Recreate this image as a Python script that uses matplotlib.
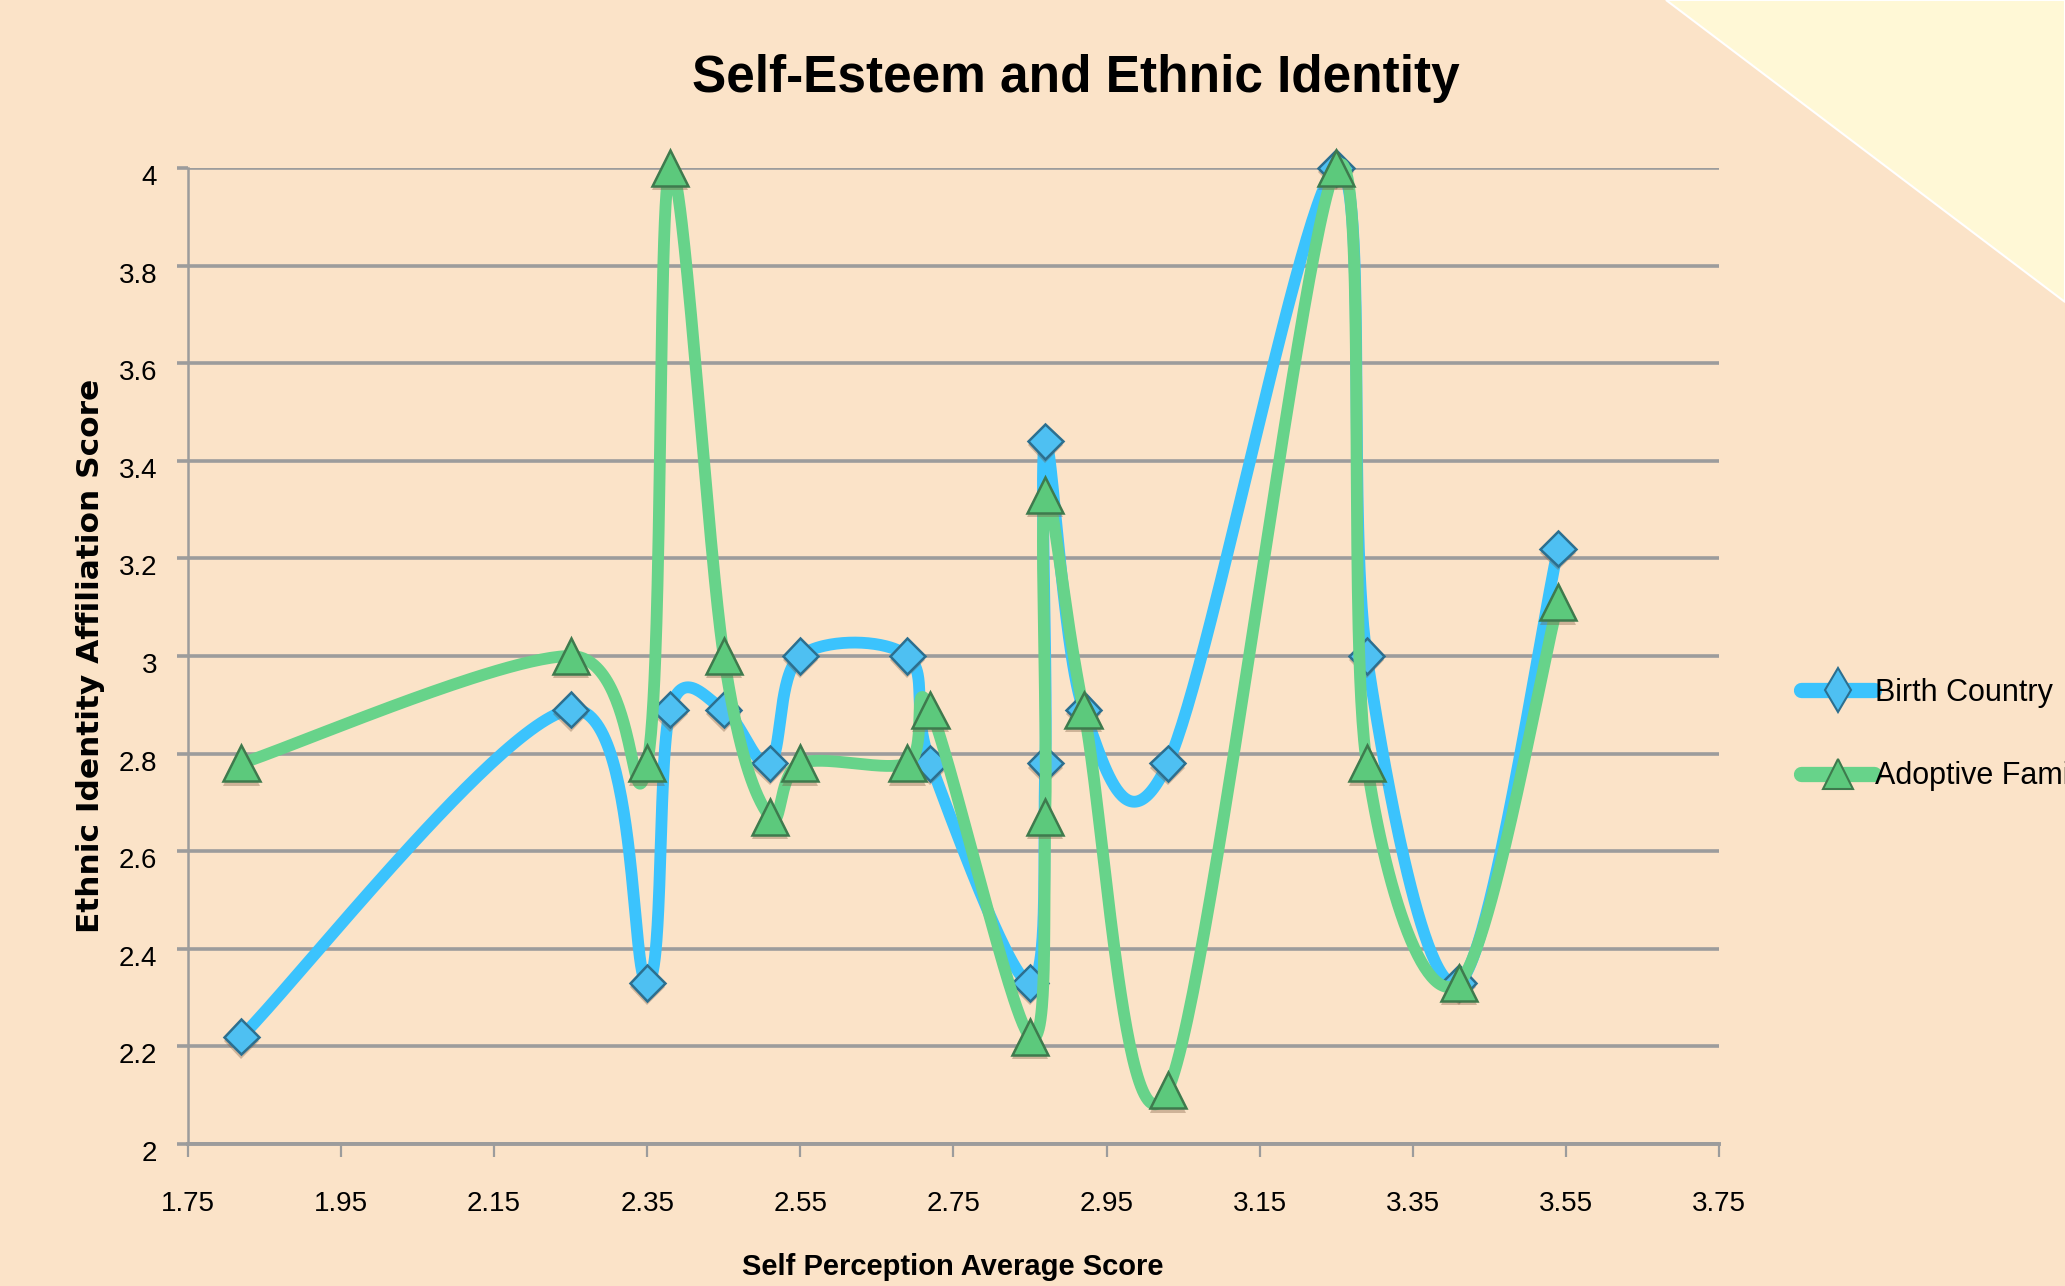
import numpy as np
import matplotlib.pyplot as plt
import matplotlib.patheffects as pe
from matplotlib.patches import Polygon
from matplotlib.lines import Line2D
from matplotlib.transforms import ScaledTranslation

# ------------------------------------------------------------
# data (scores)
# ------------------------------------------------------------
self_perception = [1.82, 2.25, 2.35, 2.38, 2.45, 2.51, 2.55, 2.69, 2.72,
                   2.85, 2.87, 2.87, 2.92, 3.03, 3.25, 3.29, 3.41, 3.54]
birth_country = [2.22, 2.89, 2.33, 2.89, 2.89, 2.78, 3.00, 3.00, 2.78,
                 2.33, 2.78, 3.44, 2.89, 2.78, 4.00, 3.00, 2.33, 3.22]
adoptive_family = [2.78, 3.00, 2.78, 4.00, 3.00, 2.67, 2.78, 2.78, 2.89,
                   2.22, 2.67, 3.33, 2.89, 2.11, 4.00, 2.78, 2.33, 3.11]

x_ticks = [1.75, 1.95, 2.15, 2.35, 2.55, 2.75, 2.95, 3.15, 3.35, 3.55, 3.75]
y_ticks = [2, 2.2, 2.4, 2.6, 2.8, 3, 3.2, 3.4, 3.6, 3.8, 4]

BG = "#FBE3C8"
CORNER = "#FFF8D6"
GRID = "#9C9C9C"
BLUE = "#3BC3FD"
GREEN = "#67D38A"
SANS = ["Liberation Sans", "DejaVu Sans"]


def smooth_curve(ax, xs, ys, n=60):
    # Catmull-Rom style bezier in screen space, like the spreadsheet smoothing
    pts = ax.transData.transform(np.column_stack([xs, ys]))
    p = np.vstack([pts[0], pts, pts[-1]])
    t = np.linspace(0, 1, n)[:, None]
    segs = []
    for i in range(1, len(p) - 2):
        p0, p1, p2, p3 = p[i - 1], p[i], p[i + 1], p[i + 2]
        c1 = p1 + (p2 - p0) / 6
        c2 = p2 - (p3 - p1) / 6
        segs.append((1 - t) ** 3 * p1 + 3 * (1 - t) ** 2 * t * c1
                    + 3 * (1 - t) * t ** 2 * c2 + t ** 3 * p2)
    curve = ax.transData.inverted().transform(np.vstack(segs))
    return curve[:, 0], curve[:, 1]


fig = plt.figure(figsize=(20.65, 12.86), dpi=100, facecolor=BG)

# lighter corner in the top right
corner = Polygon([(0.8068, 1.0), (1.0, 1.0), (1.0, 0.765)], closed=True,
                 transform=fig.transFigure, facecolor=CORNER,
                 edgecolor="white", linewidth=1.5, zorder=0)
fig.patches.append(corner)

ax = fig.add_axes([0.0910, 0.1104, 0.7414, 0.7590])
ax.set_facecolor("none")
ax.set_xlim(1.75, 3.75)
ax.set_ylim(2, 4)

ax.set_xticks(x_ticks)
ax.set_xticklabels([f"{v:.2f}" for v in x_ticks], family=SANS, fontsize=20)
ax.set_yticks(y_ticks)
ax.set_yticklabels([f"{v:g}" for v in y_ticks], family=SANS, fontsize=20)

ax.yaxis.grid(True, color=GRID, linewidth=2.6)
ax.set_axisbelow(True)
ax.tick_params(axis="y", length=8, width=2.6, color=GRID, pad=14)
ax.tick_params(axis="x", length=9.5, width=1.6, color=GRID, pad=24)
for lab in ax.get_yticklabels():
    lab.set_transform(lab.get_transform() + ScaledTranslation(0, -0.07, fig.dpi_scale_trans))

for side in ("top", "right"):
    ax.spines[side].set_visible(False)
ax.spines["left"].set_color(GRID)
ax.spines["left"].set_linewidth(1.8)
ax.spines["bottom"].set_color(GRID)
ax.spines["bottom"].set_linewidth(2.8)

shadow = [pe.SimplePatchShadow(offset=(0, -3), shadow_rgbFace="#7a5a40", alpha=0.35),
          pe.Normal()]

# Birth Country
bx, by = smooth_curve(ax, self_perception, birth_country)
ax.plot(bx, by, color=BLUE, linewidth=8.5, solid_capstyle="round", clip_on=False, zorder=3)
ax.plot(self_perception, birth_country, linestyle="none", marker="D", markersize=18,
        markerfacecolor="#4EC0F2", markeredgecolor="#2C6F8F", markeredgewidth=1.8,
        clip_on=False, zorder=4, path_effects=shadow)

# Adoptive Family
gx, gy = smooth_curve(ax, self_perception, adoptive_family)
ax.plot(gx, gy, color=GREEN, linewidth=8.5, solid_capstyle="round", clip_on=False, zorder=5)
ax.plot(self_perception, adoptive_family, linestyle="none", marker="^", markersize=26,
        markerfacecolor="#5CC97C", markeredgecolor="#3E7A4D", markeredgewidth=1.8,
        clip_on=False, zorder=6, path_effects=shadow)

# titles
fig.text(0.521, 0.9285, "Self-Esteem and Ethnic Identity", ha="center", va="baseline",
         family=SANS, fontsize=37, fontweight="bold")
fig.text(0.4615, 0.0085, "Self Perception Average Score", ha="center", va="baseline",
         family=SANS, fontsize=21, fontweight="bold")
fig.text(0.0436, 0.4899, "Ethnic Identity Affiliation Score", ha="center", va="center",
         rotation=90, family="DejaVu Sans", fontsize=22.5, fontweight="bold")

# legend
handles = [
    Line2D([], [], color=BLUE, linewidth=11, solid_capstyle="round", marker="d",
           markersize=22, markerfacecolor="#4EC0F2", markeredgecolor="#2C6F8F",
           markeredgewidth=1.5),
    Line2D([], [], color=GREEN, linewidth=11, solid_capstyle="round", marker="^",
           markersize=22, markerfacecolor="#5CC97C", markeredgecolor="#3E7A4D",
           markeredgewidth=1.5),
]
fig.legend(handles, ["Birth Country", "Adoptive Family"], loc="center left",
           bbox_to_anchor=(0.8722, 0.4288), bbox_transform=fig.transFigure,
           frameon=False, handlelength=2.4, handletextpad=0.02, labelspacing=1.75,
           borderpad=0, borderaxespad=0, prop={"family": SANS, "size": 22})

fig.savefig("out.png", dpi=100, facecolor=BG)
